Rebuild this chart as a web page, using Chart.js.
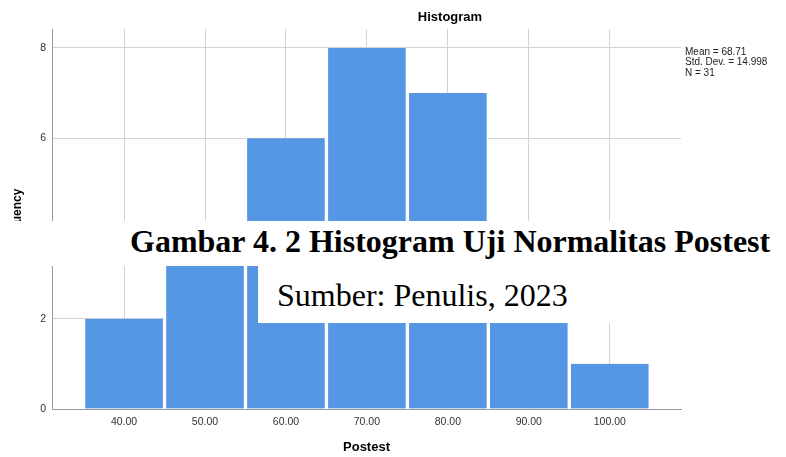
<!DOCTYPE html>
<html lang="id">
<head>
    <meta charset="UTF-8">
    <title>Histogram Postest</title>
    <script src="https://cdn.jsdelivr.net/npm/chart.js"></script>
    <style>
        html, body { margin: 0; padding: 0; background: #fff; }
        #wrap { position: relative; width: 786px; height: 457px; overflow: hidden; }
        #histChart { position: absolute; left: 0; top: 0; }
        .band { position: absolute; background: #fff; }
        .cap { position: absolute; font-family: "Liberation Serif", "Times New Roman", serif;
               font-size: 32px; line-height: 32px; color: #000; white-space: nowrap; }
    </style>
</head>
<body>
    <div id="wrap">
        <canvas id="histChart" width="786" height="457"></canvas>
        <!-- caption from the document, lying over the chart -->
        <div class="band" style="left:0; top:221px; width:786px; height:45px;"></div>
        <div class="band" style="left:258px; top:266px; width:528px; height:57px;"></div>
        <div class="cap" style="left:130px; top:225px; font-weight:bold;">Gambar 4. 2 Histogram Uji Normalitas Postest</div>
        <div class="cap" style="left:277px; top:279px;">Sumber: Penulis, 2023</div>
    </div>

    <script>
        // nilai postest (titik tengah kelas) dan frekuensinya
        const classMids = [40, 50, 60, 70, 80, 90, 100];
        const frequency = [2, 4, 6, 8, 7, 3, 1];
        const xTicks = [40, 50, 60, 70, 80, 90, 100];
        const yTicks = [0, 2, 4, 6, 8];
        const statLines = ['Mean = 68.71', 'Std. Dev. = 14.998', 'N = 31'];

        const barColor = '#5596e5';
        const gridColor = '#d3d3d3';
        const axisColor = '#9a9a9a';
        const sans = '"Liberation Sans", Arial, sans-serif';

        // judul dan kotak statistik ala SPSS
        const spssText = {
            id: 'spssText',
            afterDraw(chart) {
                const ctx = chart.ctx;
                ctx.save();
                ctx.fillStyle = '#000';
                ctx.font = 'bold 13px ' + sans;
                ctx.textAlign = 'center';
                ctx.textBaseline = 'middle';
                ctx.fillText('Histogram', 450, 17);
                ctx.font = '10px ' + sans;
                ctx.textAlign = 'left';
                ctx.fillStyle = '#222';
                statLines.forEach((t, i) => ctx.fillText(t, 685, 52 + i * 10.5));
                ctx.restore();
            }
        };

        const ctx = document.getElementById('histChart').getContext('2d');
        new Chart(ctx, {
            type: 'bar',
            data: {
                datasets: [{
                    data: classMids.map((v, i) => ({ x: v, y: frequency[i] })),
                    backgroundColor: barColor,
                    borderColor: '#ffffff',
                    borderWidth: { left: 2, right: 2, top: 0, bottom: 0 },
                    borderSkipped: false,
                    barPercentage: 1.0,
                    categoryPercentage: 1.0
                }]
            },
            options: {
                responsive: false,
                animation: false,
                events: [],
                layout: { padding: { top: 29, right: 105, bottom: 0, left: 0 } },
                plugins: {
                    legend: { display: false },
                    tooltip: { enabled: false },
                    title: { display: false }
                },
                scales: {
                    x: {
                        type: 'linear',
                        offset: false,
                        min: 31.1,
                        max: 108.8,
                        afterBuildTicks: (s) => { s.ticks = xTicks.map(v => ({ value: v })); },
                        afterFit: (s) => { s.height = 48; },
                        grid: { color: gridColor, drawTicks: false, offset: false },
                        border: { color: axisColor, width: 1 },
                        ticks: {
                            padding: 7,
                            color: '#333',
                            font: { family: sans, size: 10.5 },
                            callback: (v) => Number(v).toFixed(2)
                        },
                        title: {
                            display: true,
                            text: 'Postest',
                            color: '#000',
                            font: { family: sans, size: 13, weight: 'bold' },
                            padding: { top: 0, bottom: 2 }
                        }
                    },
                    y: {
                        min: 0,
                        max: 8.42,
                        afterBuildTicks: (s) => { s.ticks = yTicks.map(v => ({ value: v })); },
                        afterFit: (s) => { s.width = 52; },
                        grid: { color: gridColor, drawTicks: false },
                        border: { color: axisColor, width: 1 },
                        ticks: {
                            padding: 6,
                            color: '#333',
                            font: { family: sans, size: 10.5 }
                        },
                        title: {
                            display: true,
                            text: 'Frequency',
                            color: '#000',
                            font: { family: sans, size: 12, weight: 'bold' },
                            padding: { top: 10, bottom: 0 }
                        }
                    }
                }
            },
            plugins: [spssText]
        });
    </script>
</body>
</html>
